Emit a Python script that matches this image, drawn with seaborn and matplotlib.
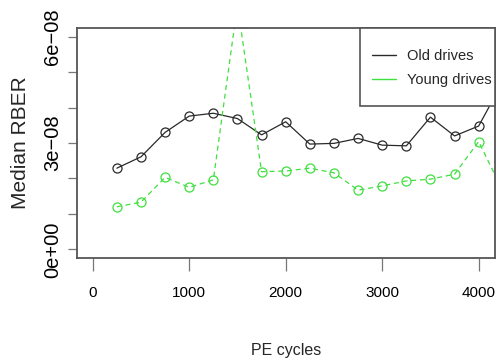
import numpy as np
import pandas as pd
import matplotlib
matplotlib.use("Agg")
import matplotlib.pyplot as plt
import seaborn as sns
from matplotlib.lines import Line2D
from matplotlib.patches import Rectangle

# ---- data ----
pe_cycles = [250, 500, 750, 1000, 1250, 1500, 1750, 2000, 2250, 2500,
             2750, 3000, 3250, 3500, 3750, 4000, 4250]
old_rber = [2.29e-08, 2.61e-08, 3.30e-08, 3.76e-08, 3.84e-08, 3.69e-08,
            3.23e-08, 3.60e-08, 2.97e-08, 2.99e-08, 3.13e-08, 2.94e-08,
            2.92e-08, 3.73e-08, 3.20e-08, 3.48e-08, 4.73e-08]
young_rber = [1.20e-08, 1.33e-08, 2.03e-08, 1.75e-08, 1.96e-08, 6.90e-08,
              2.19e-08, 2.21e-08, 2.29e-08, 2.16e-08, 1.67e-08, 1.79e-08,
              1.93e-08, 1.98e-08, 2.12e-08, 3.04e-08, 1.65e-08]
series_names = ["Old drives", "Young drives"]
x_ticks = [0, 1000, 2000, 3000, 4000]
y_ticks = [0, 1e-08, 2e-08, 3e-08, 4e-08, 5e-08, 6e-08]
y_ticklabels = ["0e+00", "", "", "3e\u221208", "", "", "6e\u221208"]

sns.set_style("white")
regular = ["Liberation Sans", "DejaVu Sans"]
plt.rcParams["font.family"] = regular

W, H = 498, 364
fig = plt.figure(figsize=(W / 100, H / 100), dpi=100)
ax_l, ax_r, ax_t, ax_b = 77, 494.5, 28, 258
aw, ah = ax_r - ax_l, ax_b - ax_t
ax = fig.add_axes([ax_l / W, 1 - ax_b / H, aw / W, ah / H])


def px2ax(px, py):
    return (px - ax_l) / aw, (ax_b - py) / ah


df_old = pd.DataFrame({"pe": pe_cycles, "rber": old_rber})
df_young = pd.DataFrame({"pe": pe_cycles, "rber": young_rber})

black = "#2a2a2a"
green = "#3fe03f"

sns.lineplot(data=df_old, x="pe", y="rber", ax=ax, color=black, lw=0.9,
             marker="o", ms=6.5, mfc="none", mec=black, mew=0.9,
             legend=False)
sns.lineplot(data=df_young, x="pe", y="rber", ax=ax, color=green, lw=0.9,
             linestyle=(0, (4, 3)), marker="o", ms=6.5, mfc="none",
             mec=green, mew=0.9, legend=False)

ax.set_xlim(-163, 4164)
ax.set_ylim(-0.245e-08, 6.246e-08)

ax.set_xticks(x_ticks)
ax.set_xticklabels([str(v) for v in x_ticks], fontsize=11)
ax.set_yticks(y_ticks)
ax.set_yticklabels(y_ticklabels, rotation=90, va="center", fontsize=14.5)

ax.tick_params(axis="x", direction="out", length=9.5, width=0.9,
               color="#777777", pad=11, labelcolor="black", bottom=True)
ax.tick_params(axis="y", direction="out", length=6.5, width=0.9,
               color="#777777", pad=4, labelcolor="black", left=True)

for s in ax.spines.values():
    s.set_visible(True)
    s.set_color("#555555")
    s.set_linewidth(1.3)

ax.set_xlabel("PE cycles", fontsize=11.5)
ax.xaxis.set_label_coords(0.5, (ax_b - 351) / ah)
ax.xaxis.label.set_va("center")
ax.set_ylabel("Median RBER", fontsize=15)
ax.yaxis.set_label_coords((20 - ax_l) / aw, 0.5)
ax.yaxis.label.set_va("center")

# legend frame (pixels x 360..494.5, y 28..106)
fx0, fy0 = px2ax(360, 106)
fx1, fy1 = px2ax(ax_r, ax_t)
frame = Rectangle((fx0, fy0), fx1 - fx0, fy1 - fy0, transform=ax.transAxes,
                  facecolor="white", edgecolor="#555555", lw=1.2,
                  zorder=4, clip_on=False)
ax.add_patch(frame)

handles = [Line2D([], [], color=black, lw=1.0),
           Line2D([], [], color=green, lw=1.0)]
leg = ax.legend(handles, series_names, loc="upper left",
                bbox_to_anchor=px2ax(360, 37), borderaxespad=0,
                frameon=False, prop={"size": 10.5}, handlelength=1.7,
                handletextpad=0.75, borderpad=0.8, labelspacing=0.72)
leg.set_zorder(5)

fig.savefig("out.png", dpi=100)
